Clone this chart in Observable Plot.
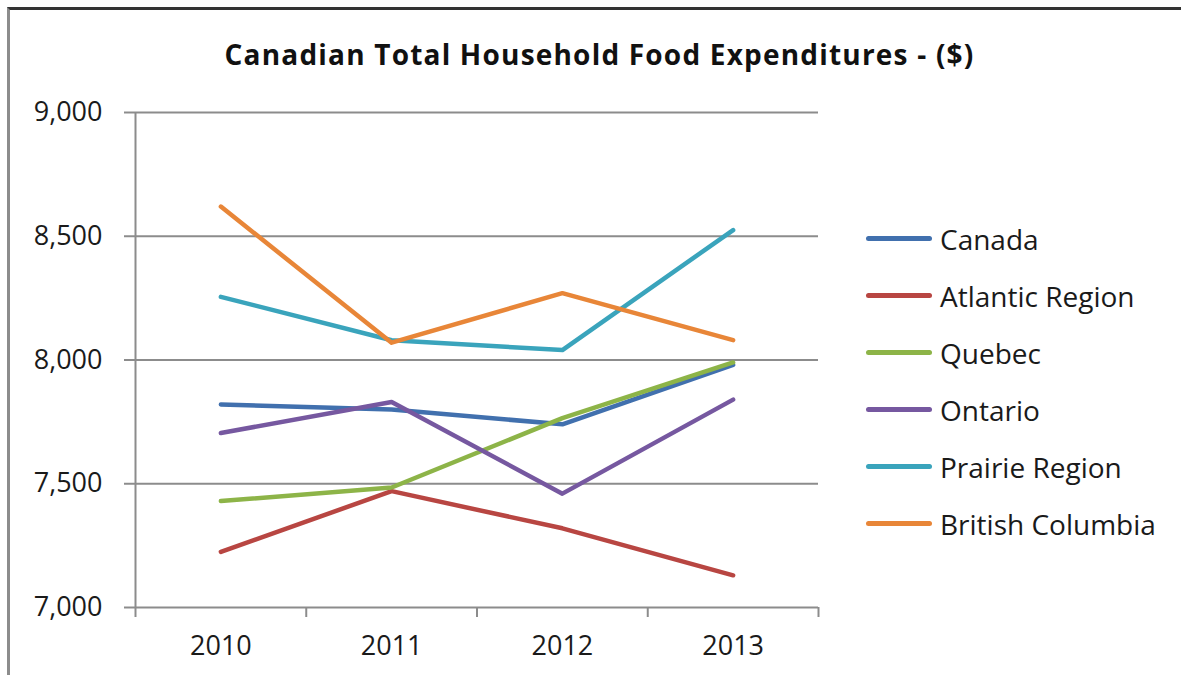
<!DOCTYPE html>
<html>
<head>
<meta charset="utf-8">
<script src="https://cdn.jsdelivr.net/npm/d3@7"></script>
<script src="https://cdn.jsdelivr.net/npm/@observablehq/plot@0.6"></script>
<style>
  body { margin: 0; background: #fff; font-family: "Open Sans", sans-serif; }
  #wrap { position: relative; width: 1181px; height: 675px; overflow: hidden; background: #fff; }
  #frame { position: absolute; left: 7px; top: 7px; width: 1300px; height: 800px;
           border-left: 3px solid #8c8c8c; border-top: 3px solid #333; box-sizing: border-box; }
  #title { position: absolute; left: 0; top: 35px; width: 1199px; text-align: center;
           font-weight: 700; font-size: 28px; letter-spacing: 1.2px; color: #111; white-space: nowrap; }
  #chart { position: absolute; left: 0; top: 0; }
  #legend { position: absolute; left: 866px; top: 210px; }
  .item { height: 57px; display: flex; align-items: center; }
  .swatch { width: 66px; height: 5px; border-radius: 3px; margin-right: 8px; }
  .label { font-size: 28px; color: #1a1a1a; white-space: nowrap; line-height: 1; }
</style>
</head>
<body>
<div id="wrap">
  <div id="frame"></div>
  <div id="title">Canadian Total Household Food Expenditures - ($)</div>
  <div id="chart"></div>
  <div id="legend"></div>
</div>
<script>
// ---- data ----
const years = [2010, 2011, 2012, 2013];
const series = ["Canada", "Atlantic Region", "Quebec", "Ontario", "Prairie Region", "British Columbia"];
const canada   = [7820, 7800, 7740, 7980];
const atlantic = [7225, 7470, 7320, 7130];
const quebec   = [7430, 7485, 7765, 7990];
const ontario  = [7705, 7830, 7460, 7840];
const prairie  = [8255, 8080, 8040, 8525];
const bc       = [8620, 8070, 8270, 8080];
const colors = ["#4170AE", "#B84642", "#8DB448", "#7658A0", "#3AA4BC", "#E88638"];
const yTicks = [7000, 7500, 8000, 8500, 9000];

const values = [canada, atlantic, quebec, ontario, prairie, bc];
const rows = [];
series.forEach((s, i) => years.forEach((y, j) => rows.push({series: s, year: y, value: values[i][j]})));
const bounds = [years[0] - 0.5, ...years.map(y => y + 0.5)];

const chart = Plot.plot({
  width: 1181, height: 675,
  marginLeft: 135, marginRight: 363, marginTop: 112, marginBottom: 68,
  x: {type: "linear", domain: [bounds[0], bounds[bounds.length - 1]]},
  y: {domain: [yTicks[0], yTicks[yTicks.length - 1]]},
  color: {domain: series, range: colors},
  style: {fontFamily: "Open Sans", fontSize: "27px", color: "#1a1a1a", background: "transparent", overflow: "visible"},
  marks: [
    Plot.gridY(yTicks.slice(1), {stroke: "#8c8c8c", strokeOpacity: 1, strokeWidth: 2}),
    Plot.ruleY([yTicks[0]], {stroke: "#8c8c8c", strokeWidth: 2}),
    Plot.ruleX([bounds[0]], {stroke: "#8c8c8c", strokeWidth: 2}),
    Plot.axisY(yTicks, {tickSize: 11, tickPadding: 22, tickFormat: d3.format(","), stroke: "#8c8c8c", strokeWidth: 2, label: null}),
    Plot.axisX(bounds, {tickSize: 10, tickFormat: () => "", stroke: "#8c8c8c", strokeWidth: 2, label: null}),
    Plot.axisX(years, {tickSize: 0, tickPadding: 28, tickFormat: d => String(d), label: null}),
    Plot.line(rows, {x: "year", y: "value", z: "series", stroke: "series", strokeWidth: 4.5, strokeLinecap: "round", strokeLinejoin: "round"})
  ]
});
document.getElementById("chart").appendChild(chart);

const legend = document.getElementById("legend");
series.forEach((s, i) => {
  const it = document.createElement("div");
  it.className = "item";
  it.innerHTML = `<div class="swatch" style="background:${colors[i]}"></div><div class="label">${s}</div>`;
  legend.appendChild(it);
});
</script>
</body>
</html>
